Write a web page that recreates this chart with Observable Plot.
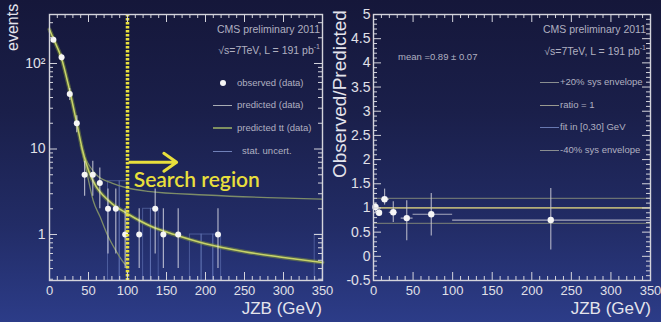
<!DOCTYPE html>
<html><head><meta charset="utf-8">
<script src="https://cdn.jsdelivr.net/npm/d3@7"></script>
<script src="https://cdn.jsdelivr.net/npm/@observablehq/plot@0.6"></script>
<style>
body{margin:0;}
#root{position:relative;width:661px;height:322px;overflow:hidden;
 background:linear-gradient(to bottom,#15173a 0%,#1a1f4a 35%,#222c66 70%,#2c3c88 100%);
 font-family:"Liberation Sans",Arial,sans-serif;color:#dcdce4;}
.abs{position:absolute;white-space:nowrap;}
.leg{font-size:9.5px;color:#b0b0c0;}
.seg{position:absolute;height:0;width:19px;}
svg{overflow:visible;}
</style></head>
<body><div id="root">
<div id="left" class="abs" style="left:0;top:0"></div>
<div id="right" class="abs" style="left:330px;top:0"></div>

<div class="abs" style="left:13px;top:3px;font-size:16px;transform-origin:0 0;transform:translate(-9px,48px) rotate(-90deg);color:#e4e4ec">events</div>
<div class="abs" style="left:330px;top:0;font-size:19px;transform-origin:0 0;transform:translate(-1px,178px) rotate(-90deg);color:#e4e4ec">Observed/Predicted</div>
<div class="abs" style="right:339px;top:299px;font-size:17px;color:#e4e4ec">JZB (GeV)</div>
<div class="abs" style="right:10px;top:299px;font-size:17px;color:#e4e4ec">JZB (GeV)</div>

<div class="abs leg" style="right:341px;top:23px;font-size:10.5px">CMS preliminary 2011</div>
<div class="abs leg" style="right:341px;top:43px;font-size:10.5px">√s=7TeV, L = 191 pb<sup style="font-size:7px">-1</sup></div>
<div class="abs" style="left:220px;top:80px;width:6px;height:6px;border-radius:3px;background:#f4f4f4"></div>
<div class="abs leg" style="left:237px;top:77px">observed (data)</div>
<div class="seg" style="left:213px;top:105px;border-top:1px solid #a8acb4"></div>
<div class="abs leg" style="left:237px;top:99px">predicted (data)</div>
<div class="seg" style="left:213px;top:127px;border-top:2px solid #7f9060"></div>
<div class="abs leg" style="left:237px;top:122px">predicted tt (data)</div>
<div class="seg" style="left:213px;top:151px;border-top:1px solid #7080b8"></div>
<div class="abs leg" style="left:242px;top:145px">stat. uncert.</div>

<div class="abs leg" style="right:15px;top:23px;font-size:10.5px">CMS preliminary 2011</div>
<div class="abs leg" style="right:15px;top:44px;font-size:10.5px">√s=7TeV, L = 191 pb<sup style="font-size:7px">-1</sup></div>
<div class="abs leg" style="left:398px;top:51px">mean =0.89 ± 0.07</div>
<div class="seg" style="left:540px;top:82px;border-top:1px solid #8a8e90"></div>
<div class="abs leg" style="left:560px;top:76px">+20% sys envelope</div>
<div class="seg" style="left:540px;top:105px;border-top:1px solid #9a9a90"></div>
<div class="abs leg" style="left:560px;top:99px">ratio = 1</div>
<div class="seg" style="left:540px;top:127px;border-top:1px solid #6878b0"></div>
<div class="abs leg" style="left:560px;top:121px">fit in [0,30] GeV</div>
<div class="seg" style="left:540px;top:150px;border-top:1px solid #8a8e90"></div>
<div class="abs leg" style="left:560px;top:144px">-40% sys envelope</div>
</div>
<script>
// ---- left panel data ----
const obsX  = [5, 15.5, 26, 35, 45, 55.5, 64.5, 75, 85, 97, 115, 135.5, 146, 165, 216];
const obsN  = [190, 118, 44, 20, 5, 5, 4, 2, 2, 1, 1, 2, 1, 1, 1];
const obsLo = [176, 107, 37, 15.5, 2.8, 2.8, 2.0, 0.59, 0.59, 0.4, 0.4, 0.59, 0.4, 0.4, 0.4];
const obsHi = [204, 129, 51, 24.5, 7.2, 7.2, 6.0, 3.4, 3.4, 2.0, 2.0, 3.4, 2.0, 2.0, 2.0];

const ttX = [0, 5, 15, 25, 35, 42, 50, 60, 70, 80, 100, 130, 160, 200, 250, 300, 350];
const ttY = [250, 195, 118, 52, 20, 10, 5.6, 3.6, 2.8, 2.3, 1.75, 1.25, 1.0, 0.78, 0.63, 0.54, 0.47];

const steepX = [40, 45, 50, 56, 65, 74, 85, 95, 100];
const steepY = [11, 7, 4.3, 2.5, 1.6, 1.0, 0.65, 0.47, 0.42];

const flatX = [45, 52, 60, 80, 100, 126, 200, 280, 350];
const flatY = [8, 6.2, 5.0, 4.0, 3.5, 3.2, 2.9, 2.7, 2.6];

const statX1  = [75, 90, 120, 130, 180, 195, 210, 340];
const statX2  = [90, 100, 130, 140, 195, 210, 220, 350];
const statTop = [4.2, 4.2, 2.0, 2.0, 1.0, 1.0, 1.0, 1.0];

const searchCut = [100];
const leftXTicks = [0, 50, 100, 150, 200, 250, 300, 350];
const leftYTicks = [1, 10, 100];
const leftYDomain = [0.29, 374];

// ---- right panel data ----
const ratioX   = [2.5, 7, 14, 25, 42, 73, 224];
const ratioXlo = [0, 5, 10, 20, 35, 50, 100];
const ratioXhi = [5, 10, 20, 30, 50, 100, 350];
const ratioY   = [1.02, 0.90, 1.18, 0.91, 0.79, 0.87, 0.75];
const ratioLo  = [0.90, 0.83, 1.06, 0.70, 0.32, 0.42, 0.13];
const ratioHi  = [1.10, 0.97, 1.39, 1.13, 1.15, 1.30, 1.40];
const envVals  = [1.2, 0.68];
const unityVal = [1.0];
const rightYTicks = [-0.5, 0, 0.5, 1, 1.5, 2, 2.5, 3, 3.5, 4, 4.5, 5];
const rightYDomain = [-0.5, 5];

const FG = "#d4d4dc", YEL = "#e8df3c";

const obs = obsX.map((x, i) => ({x, n: obsN[i], lo: obsLo[i], hi: obsHi[i]}));
const tt = ttX.map((x, i) => ({x, y: ttY[i]}));
const steep = steepX.map((x, i) => ({x, y: steepY[i]}));
const flat = flatX.map((x, i) => ({x, y: flatY[i]}));
const stat = statX1.map((x1, i) => ({x1, x2: statX2[i], y2: statTop[i]}));
const ratio = ratioX.map((x, i) => ({x, xlo: ratioXlo[i], xhi: ratioXhi[i], y: ratioY[i], lo: ratioLo[i], hi: ratioHi[i]}));

function frameTicks(W, H, mL, mR, mT, mB, xMaj, xMin, yMaj, yMin) {
  const fw = W - mL - mR, fh = H - mT - mB;
  const st = {stroke: FG, strokeWidth: 1};
  return [
    Plot.tickX(xMaj, {...st, insetTop: fh - 8}),
    Plot.tickX(xMaj, {...st, insetBottom: fh - 8}),
    Plot.tickX(xMin, {...st, insetTop: fh - 4}),
    Plot.tickX(xMin, {...st, insetBottom: fh - 4}),
    Plot.tickY(yMaj, {...st, insetRight: fw - 8}),
    Plot.tickY(yMaj, {...st, insetLeft: fw - 8}),
    Plot.tickY(yMin, {...st, insetRight: fw - 4}),
    Plot.tickY(yMin, {...st, insetLeft: fw - 4}),
  ];
}

// left
{
  const W = 330, H = 322, mL = 49, mR = 8, mT = 14, mB = 42;
  const xMin = d3.range(0, 351, 10).filter(v => v % 50 !== 0);
  const yMin = [];
  for (const dec of [0.1, 1, 10, 100]) for (let k = 2; k <= 9; k++) { const v = k * dec; if (v > leftYDomain[0] && v < leftYDomain[1]) yMin.push(v); }
  const p = Plot.plot({
    width: W, height: H, marginLeft: mL, marginRight: mR, marginTop: mT, marginBottom: mB,
    style: {background: "transparent", color: "#e0e0e8", fontFamily: "Liberation Sans, Arial, sans-serif", fontSize: "13px", overflow: "visible"},
    x: {domain: [0, 350]},
    y: {type: "log", domain: leftYDomain},
    marks: [
      Plot.rect(stat, {x1: "x1", x2: "x2", y1: leftYDomain[0], y2: "y2", fill: "none", stroke: "#7c90d0", strokeOpacity: 0.45, strokeWidth: 1}),
      Plot.line(flat, {x: "x", y: "y", stroke: "#7d8c68", strokeWidth: 1.3, curve: "monotone-x"}),
      Plot.line(steep, {x: "x", y: "y", stroke: "#7d8c68", strokeWidth: 1.3, curve: "monotone-x"}),
      Plot.line(tt, {x: "x", y: "y", stroke: "#7c8e3c", strokeWidth: 4, strokeOpacity: 0.55, curve: "monotone-x"}),
      Plot.line(tt, {x: "x", y: "y", stroke: "#c8d468", strokeWidth: 1.5, curve: "monotone-x"}),
      Plot.ruleX(obs, {x: "x", y1: "lo", y2: "hi", stroke: "#e8e8f0", strokeOpacity: 0.7, strokeWidth: 1.2}),
      Plot.dot(obs, {x: "x", y: "n", r: 3, fill: "#f6f6f6"}),
      Plot.ruleX(searchCut, {stroke: YEL, strokeWidth: 3.5, strokeDasharray: "2.6,1.4"}),
      Plot.arrow([{x1: 103, x2: 163, y: 7}], {x1: "x1", x2: "x2", y1: "y", y2: "y", stroke: YEL, strokeWidth: 3, headLength: 11, headAngle: 70}),
      Plot.text(["Search region"], {x: 108, y: 4.35, text: d => d, textAnchor: "start", fill: YEL, fontSize: 21, fontFamily: "Lato, Open Sans, sans-serif", fontWeight: 600}),
      Plot.frame({stroke: FG, strokeWidth: 1.4}),
      ...frameTicks(W, H, mL, mR, mT, mB, leftXTicks, xMin, leftYTicks, yMin),
      Plot.axisX({ticks: leftXTicks, tickSize: 0, tickPadding: 5, label: null, fontSize: 13}),
      Plot.axisY({ticks: leftYTicks, tickSize: 0, tickPadding: 4, label: null, fontSize: 14, tickFormat: d => d === 100 ? "10²" : String(d)})
    ]
  });
  document.getElementById("left").appendChild(p);
}

// right
{
  const W = 331, H = 322, mL = 43, mR = 11, mT = 14, mB = 42;
  const xMin = d3.range(0, 351, 10).filter(v => v % 50 !== 0);
  const yMin = d3.range(-5, 51).map(v => v / 10).filter(v => Math.round(v * 10) % 5 !== 0);
  const p = Plot.plot({
    width: W, height: H, marginLeft: mL, marginRight: mR, marginTop: mT, marginBottom: mB,
    style: {background: "transparent", color: "#e0e0e8", fontFamily: "Liberation Sans, Arial, sans-serif", fontSize: "13px", overflow: "visible"},
    x: {domain: [0, 350]},
    y: {domain: rightYDomain},
    marks: [
      Plot.ruleY(envVals, {stroke: "#7e8478", strokeWidth: 1.2, strokeOpacity: 0.8}),
      Plot.ruleY(unityVal, {stroke: "#b4ae78", strokeWidth: 1.8}),
      Plot.ruleY(ratio, {y: "y", x1: "xlo", x2: "xhi", stroke: "#c8c8d4", strokeWidth: 1.2, strokeOpacity: 0.8}),
      Plot.ruleX(ratio, {x: "x", y1: "lo", y2: "hi", stroke: "#c8c8d4", strokeWidth: 1.2, strokeOpacity: 0.8}),
      Plot.dot(ratio, {x: "x", y: "y", r: 3.2, fill: "#f6f6f6"}),
      Plot.frame({stroke: FG, strokeWidth: 1.4}),
      ...frameTicks(W, H, mL, mR, mT, mB, leftXTicks, xMin, rightYTicks, yMin),
      Plot.axisX({ticks: leftXTicks, tickSize: 0, tickPadding: 5, label: null, fontSize: 13}),
      Plot.axisY({ticks: rightYTicks, tickSize: 0, tickPadding: 3, label: null, fontSize: 14, tickFormat: d => String(d)})
    ]
  });
  document.getElementById("right").appendChild(p);
}
</script>
</body></html>
